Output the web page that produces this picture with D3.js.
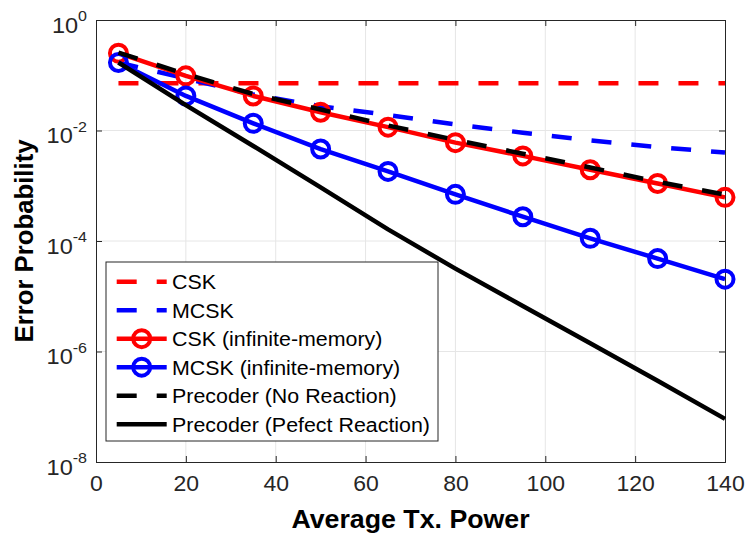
<!DOCTYPE html>
<html><head><meta charset="utf-8">
<script src="https://cdn.jsdelivr.net/npm/d3@7"></script>
<style>
body{margin:0;background:#fff;}
text{font-family:"Liberation Sans",Arial,sans-serif;}
</style></head>
<body>
<svg id="chart" width="746" height="535"></svg>
<script>
// ---- data ----
const xValues = [5, 20, 35, 50, 65, 80, 95, 110, 125, 140];
const cskValues = [0.0714, 0.0714, 0.0714, 0.0714, 0.0714, 0.0714, 0.0714, 0.0714, 0.0714, 0.0714];
const mcskValues = [0.170, 0.0871, 0.0447, 0.0275, 0.0191, 0.0129, 0.00912, 0.00661, 0.00501, 0.00398];
const cskInfValues = [0.251, 0.0977, 0.0422, 0.0214, 0.0115, 0.00603, 0.00347, 0.00195, 0.0011, 0.000617];
const mcskInfValues = [0.170, 0.0422, 0.0135, 0.00462, 0.00182, 0.0007, 0.000275, 0.000112, 4.8e-5, 2.04e-5];
const precNoReactValues = [0.257, 0.105, 0.0457, 0.024, 0.0123, 0.00676, 0.0038, 0.00214, 0.00118, 0.00069];
const precPerfectValues = [0.170, 0.0288, 0.00525, 0.000933, 0.000162, 3.16e-5, 6.68e-6, 1.41e-6, 2.95e-7, 6.03e-8];
const seriesNames = ["CSK", "MCSK", "CSK (infinite-memory)", "MCSK (infinite-memory)", "Precoder (No Reaction)", "Precoder (Pefect Reaction)"];
const xTicks = [0, 20, 40, 60, 80, 100, 120, 140];
const yTickExponents = [0, -2, -4, -6, -8];
const xLabel = "Average Tx. Power";
const yLabel = "Error Probability";

// ---- layout ----
const L = 96, R = 725, T = 20, B = 462;
const SX = 1.07; // horizontal text stretch
const svg = d3.select("#chart");
const x = d3.scaleLinear().domain([0, 140]).range([L, R]);
const y = d3.scaleLog().domain([1e-8, 1]).range([B, T]);
const axisColor = "#262626";

// grid
const grid = svg.append("g");
xTicks.forEach(t => {
  if (t > 0 && t < 140) grid.append("line").attr("x1", x(t)).attr("x2", x(t)).attr("y1", T).attr("y2", B)
    .attr("stroke", "#e6e6e6").attr("stroke-width", 1);
});
yTickExponents.forEach(e => {
  const v = Math.pow(10, e);
  if (e < 0 && e > -8) grid.append("line").attr("x1", L).attr("x2", R).attr("y1", y(v)).attr("y2", y(v))
    .attr("stroke", "#e6e6e6").attr("stroke-width", 1);
});

// axes
const xAxis = d3.axisBottom(x).tickValues(xTicks).tickSize(-6).tickPadding(14).tickFormat(d3.format("d"));
const gx = svg.append("g").attr("transform", `translate(0,${B})`).call(xAxis);
gx.select(".domain").attr("stroke", axisColor);
gx.selectAll(".tick line").attr("stroke", axisColor);
gx.selectAll(".tick text").attr("fill", axisColor).attr("transform", `scale(${SX},1)`)
  .attr("x", 0).style("font-size", "21.5px").style("font-family", "Liberation Sans, Arial, sans-serif");
const xTop = d3.axisTop(x).tickValues(xTicks).tickSize(-6).tickFormat("");
const gxt = svg.append("g").attr("transform", `translate(0,${T})`).call(xTop);
gxt.selectAll("path,line").attr("stroke", axisColor);

const yVals = yTickExponents.map(e => Math.pow(10, e));
const yAxis = d3.axisLeft(y).tickValues(yVals).tickSize(-6).tickFormat("");
const gy = svg.append("g").attr("transform", `translate(${L},0)`).call(yAxis);
gy.selectAll("path,line").attr("stroke", axisColor);
const yRight = d3.axisRight(y).tickValues(yVals).tickSize(-6).tickFormat("");
const gyr = svg.append("g").attr("transform", `translate(${R},0)`).call(yRight);
gyr.selectAll("path,line").attr("stroke", axisColor);

// y tick labels with superscripts
yTickExponents.forEach(e => {
  const t = svg.append("text")
    .attr("transform", `translate(87,${y(Math.pow(10, e)) + 12.5}) scale(${SX},1)`)
    .attr("text-anchor", "end").attr("fill", axisColor).style("font-size", "22px");
  t.append("tspan").text("10");
  t.append("tspan").attr("dy", -11.5).style("font-size", "15px").text(String(e));
});

// axis labels
svg.append("text").attr("transform", `translate(${(L + R) / 2},528) scale(${SX},1)`).attr("text-anchor", "middle")
  .style("font-size", "25px").style("font-weight", "bold").attr("fill", "#000").text(xLabel);
svg.append("text").attr("transform", `translate(33,${(T + B) / 2}) rotate(-90) scale(1.03,1)`).attr("text-anchor", "middle")
  .style("font-size", "25px").style("font-weight", "bold").attr("fill", "#000").text(yLabel);

// series
const red = "#ff0000", blue = "#0000ff", black = "#000000";
const series = [
  { name: seriesNames[0], vals: cskValues, color: red, dash: "20,20", marker: false },
  { name: seriesNames[1], vals: mcskValues, color: blue, dash: "20,20", marker: false },
  { name: seriesNames[2], vals: cskInfValues, color: red, dash: null, marker: true },
  { name: seriesNames[3], vals: mcskInfValues, color: blue, dash: null, marker: true },
  { name: seriesNames[4], vals: precNoReactValues, color: black, dash: "20,20", marker: false },
  { name: seriesNames[5], vals: precPerfectValues, color: black, dash: null, marker: false },
];
const line = d3.line().x(d => x(d[0])).y(d => y(d[1]));
const plot = svg.append("g");
series.forEach(s => {
  const pts = xValues.map((xv, i) => [xv, s.vals[i]]);
  plot.append("path").attr("d", line(pts)).attr("fill", "none").attr("stroke", s.color)
    .attr("stroke-width", 4.5).attr("stroke-dasharray", s.dash).attr("stroke-linejoin", "round");
  if (s.marker) {
    plot.selectAll(null).data(pts).enter().append("circle")
      .attr("cx", d => x(d[0])).attr("cy", d => y(d[1])).attr("r", 8.5)
      .attr("fill", "none").attr("stroke", s.color).attr("stroke-width", 4);
  }
});

// legend
const lg = svg.append("g");
lg.append("rect").attr("x", 106).attr("y", 262).attr("width", 332).attr("height", 179)
  .attr("fill", "#fff").attr("stroke", axisColor).attr("stroke-width", 1);
const rowY = [281.7, 310.2, 338.7, 367.2, 395.7, 424.2];
series.forEach((s, i) => {
  const cy = rowY[i];
  lg.append("line").attr("x1", 116.7).attr("x2", 166.7).attr("y1", cy).attr("y2", cy)
    .attr("stroke", s.color).attr("stroke-width", 4.5).attr("stroke-dasharray", s.dash);
  if (s.marker) lg.append("circle").attr("cx", 141.7).attr("cy", cy).attr("r", 8.5)
    .attr("fill", "none").attr("stroke", s.color).attr("stroke-width", 4);
  lg.append("text").attr("transform", `translate(172,${cy + 7.5}) scale(${SX},1)`)
    .style("font-size", "20px").attr("fill", "#000").text(s.name);
});
</script>
</body></html>
